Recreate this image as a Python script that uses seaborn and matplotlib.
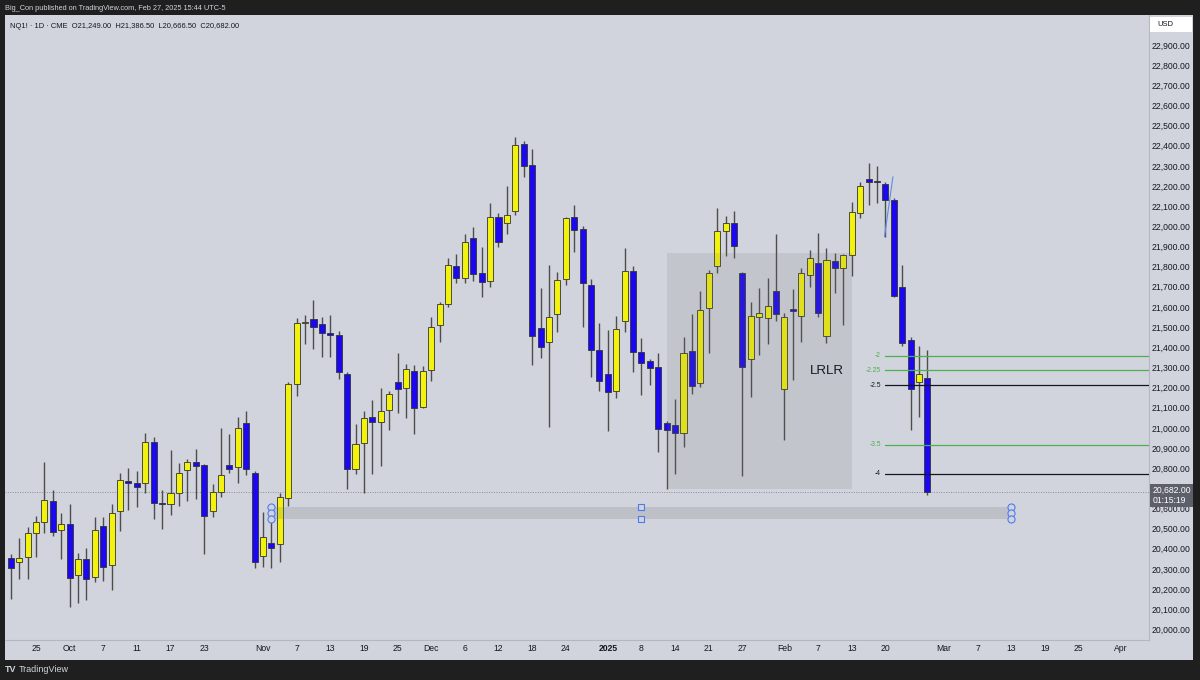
import numpy as np
import pandas as pd
import seaborn as sns
import matplotlib.pyplot as plt
from matplotlib.patches import Rectangle

# NQ1! 1D candles, 2024-09-20 .. 2025-02-27
opens = [20355, 20333, 20357, 20477, 20534, 20637, 20493, 20524, 20268, 20347,
         20258, 20513, 20318, 20586, 20738, 20728, 20725, 20930, 20625, 20620,
         20675, 20789, 20829, 20814, 20586, 20680, 20817, 20804, 21025, 20774,
         20364, 20430, 20423, 20650, 21216, 21518, 21540, 21514, 21472, 21459,
         21269, 20796, 20923, 21054, 21027, 21087, 21229, 21196, 21284, 21105,
         21287, 21510, 21615, 21805, 21742, 21941, 21770, 21729, 22048, 22015,
         22075, 22409, 22306, 21494, 21424, 21565, 21739, 22045, 21985, 21707,
         21385, 21266, 21183, 21530, 21778, 21375, 21332, 21300, 21022, 21014,
         20973, 21383, 21221, 21596, 21805, 21977, 22015, 21770, 21340, 21552,
         21544, 21678, 21193, 21588, 21557, 21759, 21817, 21457, 21828, 21792,
         21858, 22065, 22233, 22220, 22210, 22131, 21697, 21436, 21226, 21249]
highs = [20374, 20455, 20508, 20561, 20830, 20690, 20576, 20623, 20380, 20404,
         20557, 20556, 20620, 20774, 20801, 20787, 20974, 20953, 20691, 20890,
         20824, 20847, 20895, 20820, 20723, 20998, 20969, 21054, 21082, 20784,
         20582, 20533, 20675, 21229, 21547, 21560, 21634, 21549, 21560, 21482,
         21277, 21017, 21083, 21138, 21198, 21181, 21373, 21318, 21310, 21307,
         21552, 21623, 21841, 21863, 21962, 21998, 21899, 22114, 22065, 22202,
         22445, 22424, 22382, 21696, 21810, 21772, 22045, 22106, 22002, 21739,
         21522, 21486, 21557, 21894, 21803, 21444, 21343, 21371, 21034, 21142,
         21452, 21563, 21681, 21783, 22091, 22051, 22076, 21773, 21623, 21692,
         21745, 21963, 21568, 21688, 21792, 21883, 21968, 21891, 21869, 21863,
         22122, 22222, 22316, 22300, 22220, 22141, 21808, 21449, 21406, 21386.5]
lows = [20150, 20248, 20248, 20357, 20480, 20465, 20349, 20112, 20129, 20145,
        20235, 20241, 20195, 20489, 20594, 20609, 20678, 20549, 20499, 20567,
        20612, 20638, 20645, 20374, 20556, 20658, 20777, 20728, 20767, 20303,
        20311, 20306, 20336, 20612, 21158, 21415, 21393, 21350, 21350, 21244,
        20696, 20771, 20678, 20770, 20811, 20988, 21072, 21049, 20969, 21100,
        21232, 21426, 21598, 21717, 21717, 21730, 21648, 21700, 21899, 21960,
        22058, 22243, 21312, 21345, 21006, 21477, 21707, 21871, 21499, 21251,
        21184, 20984, 21147, 21477, 21279, 21163, 21213, 20880, 20695, 20771,
        20906, 21168, 21204, 21373, 21767, 21853, 21841, 20761, 21154, 21361,
        21416, 21530, 20940, 21237, 21427, 21700, 21549, 21420, 21668, 21510,
        21754, 22040, 22106, 22117, 21949, 21651, 21406, 20989, 21052, 20666.5]
closes = [20306, 20355, 20477, 20534, 20640, 20485, 20524, 20255, 20347, 20248,
          20494, 20311, 20576, 20740, 20725, 20705, 20930, 20625, 20620, 20675,
          20777, 20829, 20811, 20564, 20680, 20767, 20797, 21001, 20797, 20334,
          20460, 20405, 20655, 21216, 21519, 21520, 21502, 21469, 21459, 21276,
          20796, 20921, 21047, 21030, 21085, 21169, 21191, 21290, 21100, 21284,
          21500, 21615, 21808, 21742, 21924, 21763, 21725, 22048, 21924, 22055,
          22404, 22301, 21456, 21403, 21549, 21734, 22041, 21982, 21717, 21386,
          21232, 21179, 21489, 21778, 21375, 21320, 21298, 20994, 20989, 20973,
          21373, 21209, 21585, 21767, 21978, 22018, 21902, 21300, 21555, 21568,
          21606, 21566, 21550, 21578, 21767, 21841, 21571, 21833, 21792, 21858,
          22073, 22200, 22220, 22218, 22131, 21654, 21422, 21191, 21267, 20682]

# CME days without a daily bar of their own
holidays = ["2024-11-28", "2024-12-25", "2025-01-01", "2025-01-20", "2025-02-17"]
calendar_start, calendar_end = "2024-09-20", "2025-04-04"

tick_dates = ["2024-09-25", "2024-10-01", "2024-10-07", "2024-10-11", "2024-10-17",
              "2024-10-23", "2024-11-01", "2024-11-07", "2024-11-13", "2024-11-19",
              "2024-11-25", "2024-12-02", "2024-12-06", "2024-12-12", "2024-12-18",
              "2024-12-24", "2025-01-02", "2025-01-08", "2025-01-14", "2025-01-21",
              "2025-01-27", "2025-02-03", "2025-02-07", "2025-02-13", "2025-02-20",
              "2025-03-03", "2025-03-07", "2025-03-13", "2025-03-19", "2025-03-25",
              "2025-04-01"]
tick_labels = ["25", "Oct", "7", "11", "17", "23", "Nov", "7", "13", "19", "25",
               "Dec", "6", "12", "18", "24", "2025", "8", "14", "21", "27", "Feb",
               "7", "13", "20", "Mar", "7", "13", "19", "25", "Apr"]
price_ticks = list(range(20000, 23000, 100))

last_price = 20682.0
countdown = "01:15:19"
header = "Big_Con published on TradingView.com, Feb 27, 2025 15:44 UTC-5"
legend = "NQ1! \u00b7 1D \u00b7 CME  O21,249.00  H21,386.50  L20,666.50  C20,682.00"

# drawings
box_dates = ["2025-01-13", "2025-02-13"]
box_prices = [20698, 21869]
box_text, box_text_date, box_text_price = "LRLR", "2025-02-10", 21282

zone_dates = ["2024-11-04", "2025-01-08", "2025-03-13"]
zone_prices = [20546, 20609]

fib_labels = ["-2", "-2.25", "-2.5", "-3.5", "-4"]
fib_prices = [21358, 21286, 21211, 20916, 20771]
fib_colors = ["#4caf50", "#4caf50", "#131722", "#4caf50", "#131722"]
fib_start = "2025-02-20"

trend_dates = ["2025-02-20", "2025-02-21"]
trend_prices = [21949, 22246]

# ---------------------------------------------------------------
BG = "#d1d4dc"
DARK = "#1f1f1f"
TXT = "#131722"
UP, DOWN = "#f2f20c", "#1c08f0"

sns.set_theme(style="white", rc={"axes.facecolor": BG, "figure.facecolor": DARK})
plt.rcParams["font.family"] = ["Liberation Sans", "DejaVu Sans"]

dates = pd.bdate_range(calendar_start, calendar_end, freq="C", holidays=holidays)
pos = {d: i for i, d in enumerate(dates)}
def xi(d):
    return pos[pd.Timestamp(d)]

df = pd.DataFrame({"open": opens, "high": highs, "low": lows, "close": closes})
df["x"] = np.arange(len(df))
df["up"] = df["close"] >= df["open"]

W, H = 1200, 680
fig = plt.figure(figsize=(12, 6.8), dpi=100)
fig.add_artist(Rectangle((5 / W, 20 / H), 1188 / W, 645 / H, transform=fig.transFigure,
                         facecolor=BG, edgecolor="none", zorder=0))
ax = fig.add_axes([5 / W, 40 / H, 1144 / W, 625 / H])
ax.set_facecolor(BG)

# candles
ax.vlines(df["x"], df["low"], df["high"], color="#4d4d4d", lw=1.0, zorder=2)
body_lo = df[["open", "close"]].min(axis=1)
body_h = np.maximum((df["close"] - df["open"]).abs(), 6)
ax.bar(df["x"], body_h, bottom=body_lo, width=0.72,
       color=np.where(df["up"], UP, DOWN), edgecolor="#333333", linewidth=0.6, zorder=3)

# current price line
ax.axhline(last_price, color="#8a8d96", lw=0.7, ls=(0, (1, 1.5)), zorder=1)

# LRLR range box
bx0, bx1 = xi(box_dates[0]), xi(box_dates[1])
ax.add_patch(Rectangle((bx0, box_prices[0]), bx1 - bx0, box_prices[1] - box_prices[0],
                       facecolor=(0.45, 0.45, 0.45, 0.15), edgecolor="none", zorder=4))
ax.text(xi(box_text_date), box_text_price, box_text, ha="center", va="center",
        fontsize=9.5, color=TXT, zorder=6)

# zone with handles
zx0, zxm, zx1 = (xi(d) for d in zone_dates)
ax.add_patch(Rectangle((zx0, zone_prices[0]), zx1 - zx0, zone_prices[1] - zone_prices[0],
                       facecolor=(0.45, 0.45, 0.45, 0.2), edgecolor="none", zorder=4))
zmid = (zone_prices[0] + zone_prices[1]) / 2
sns.scatterplot(x=[zx0] * 3 + [zx1] * 3, y=[zone_prices[1], zmid, zone_prices[0]] * 2,
                marker="o", s=26, facecolor=BG, edgecolor="#4a7cf0", linewidth=0.8,
                zorder=7, ax=ax)
sns.scatterplot(x=[zxm] * 2, y=[zone_prices[1], zone_prices[0]],
                marker="s", s=22, facecolor=BG, edgecolor="#4a7cf0", linewidth=0.8,
                zorder=7, ax=ax)

# fib extension levels
x_end = 135.35
fx = xi(fib_start) - 0.05
for lab, p, c in zip(fib_labels, fib_prices, fib_colors):
    ax.plot([fx, x_end], [p, p], color=c, lw=0.9, zorder=5)
    ax.annotate(lab, (fx, p), xytext=(-3, 0), textcoords="offset points",
                ha="right", va="center", fontsize=4.8, color=c, zorder=6)

# thin trend line drawing
ax.plot([xi(d) - 0.1 for d in trend_dates], trend_prices, color="#5b8def", lw=0.8, zorder=5)

# axes
ax.set_xlim(-0.68, x_end)
ax.set_ylim(19947, 23049)
ax.yaxis.tick_right()
ax.set_yticks(price_ticks)
ax.set_yticklabels([f"{p:,.2f}" for p in price_ticks])
ax.set_xticks([xi(d) for d in tick_dates])
ax.set_xticklabels(tick_labels)
ax.tick_params(axis="y", length=0, pad=2, labelsize=6.2, labelcolor=TXT)
ax.tick_params(axis="x", length=0, pad=3, labelsize=6.2, labelcolor=TXT)
for t in ax.get_xticklabels():
    if t.get_text() == "2025":
        t.set_fontweight("bold")
for s in ["top", "left"]:
    ax.spines[s].set_visible(False)
for s in ["right", "bottom"]:
    ax.spines[s].set_color("#b4b7c0")
    ax.spines[s].set_linewidth(0.8)

# last price tag on the price scale
ax.annotate(f"{last_price:,.2f}\n{countdown}", (1.0, last_price),
            xycoords=("axes fraction", "data"), xytext=(2.5, 4.5), textcoords="offset points",
            ha="left", va="top", fontsize=6.2, color="white", linespacing=1.15,
            bbox=dict(boxstyle="square,pad=0.25", facecolor="#5d606b", edgecolor="none"),
            annotation_clip=False, zorder=10)

# USD box
fig.add_artist(Rectangle((1150 / W, 1 - 32 / H), 42 / W, 15 / H, transform=fig.transFigure,
                         facecolor="white", edgecolor="none", zorder=3))
fig.text(1157 / W, 1 - 24.5 / H, "USD", fontsize=5.5, color=TXT, va="center", zorder=4)

# header, legend, footer
fig.text(5 / W, 1 - 8 / H, header, fontsize=5.3, color="#d1d4dc", va="center")
fig.text(10 / W, 1 - 26 / H, legend, fontsize=5.4, color=TXT, va="center")
fig.text(5 / W, 1 - 670 / H, "TV", fontsize=6.5, fontweight="bold", color="#d1d4dc", va="center")
fig.text(19 / W, 1 - 670 / H, "TradingView", fontsize=6.5, color="#d1d4dc", va="center")

fig.savefig("out.png", dpi=100, facecolor=DARK)
